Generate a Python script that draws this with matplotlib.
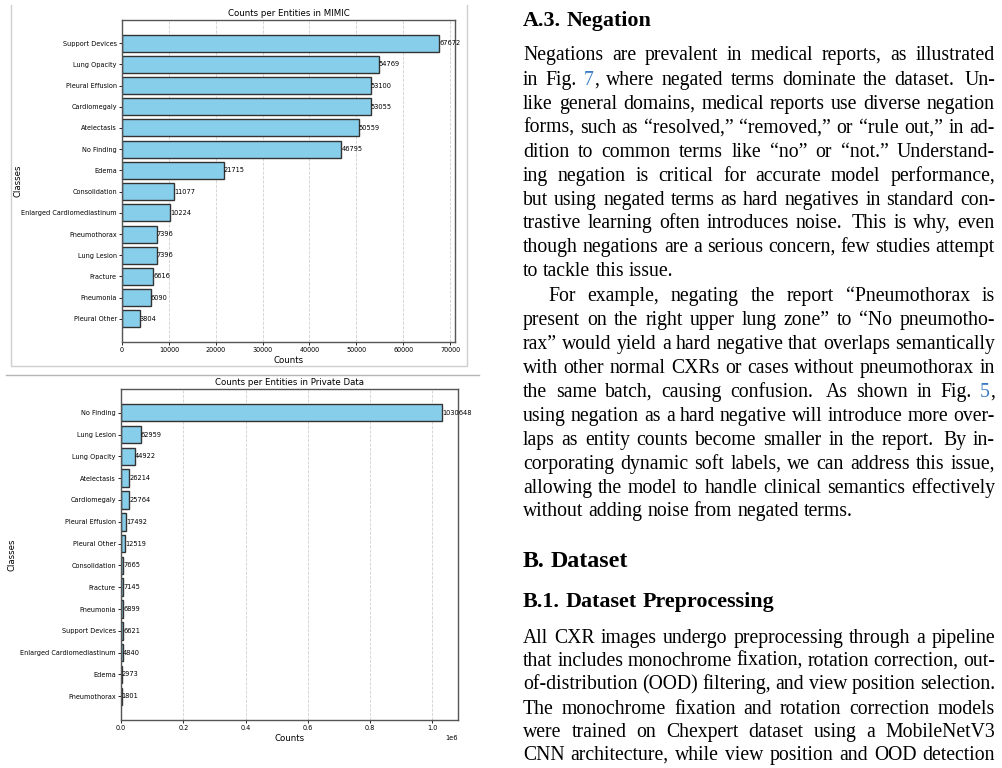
import re

import matplotlib

matplotlib.use("Agg")
import matplotlib.pyplot as plt
from matplotlib.lines import Line2D
from matplotlib.transforms import IdentityTransform

W, H = 1002, 768

mimic_classes = [
    "Support Devices", "Lung Opacity", "Pleural Effusion", "Cardiomegaly",
    "Atelectasis", "No Finding", "Edema", "Consolidation",
    "Enlarged Cardiomediastinum", "Pneumothorax", "Lung Lesion", "Fracture",
    "Pneumonia", "Pleural Other",
]
mimic_counts = [67672, 54769, 53100, 53055, 50559, 46795, 21715, 11077,
                10224, 7396, 7396, 6616, 6090, 3804]

private_classes = [
    "No Finding", "Lung Lesion", "Lung Opacity", "Atelectasis", "Cardiomegaly",
    "Pleural Effusion", "Pleural Other", "Consolidation", "Fracture",
    "Pneumonia", "Support Devices", "Enlarged Cardiomediastinum", "Edema",
    "Pneumothorax",
]
private_counts = [1030648, 62959, 44922, 26214, 25764, 17492, 12519, 7665,
                  7145, 6899, 6621, 4840, 2973, 1801]

# text column: (kind, text, baseline y in px from top, justify, indent)
page_lines = [
    ("h2", "A.3. Negation", 26, False, 0),
    ("p", "Negations are prevalent in medical reports, as illustrated", 60, True, 0),
    ("p", "in Fig. {7}, where negated terms dominate the dataset.  Un-", 85, True, 0),
    ("p", "like general domains, medical reports use diverse negation", 109, True, 0),
    ("p", "forms, such as \u201cresolved,\u201d \u201cremoved,\u201d or \u201crule out,\u201d in ad-", 133, True, 0),
    ("p", "dition to common terms like \u201cno\u201d or \u201cnot.\u201d Understand-", 157, True, 0),
    ("p", "ing negation is critical for accurate model performance,", 181, True, 0),
    ("p", "but using negated terms as hard negatives in standard con-", 205, True, 0),
    ("p", "trastive learning often introduces noise.  This is why, even", 228, True, 0),
    ("p", "though negations are a serious concern, few studies attempt", 252, True, 0),
    ("p", "to tackle this issue.", 276, False, 0),
    ("p", "For example, negating the report \u201cPneumothorax is", 301, True, 25),
    ("p", "present on the right upper lung zone\u201d to \u201cNo pneumotho-", 325, True, 0),
    ("p", "rax\u201d would yield a hard negative that overlaps semantically", 349, True, 0),
    ("p", "with other normal CXRs or cases without pneumothorax in", 373, True, 0),
    ("p", "the same batch, causing confusion.  As shown in Fig. {5},", 397, True, 0),
    ("p", "using negation as a hard negative will introduce more over-", 421, True, 0),
    ("p", "laps as entity counts become smaller in the report.  By in-", 445, True, 0),
    ("p", "corporating dynamic soft labels, we can address this issue,", 469, True, 0),
    ("p", "allowing the model to handle clinical semantics effectively", 493, True, 0),
    ("p", "without adding noise from negated terms.", 516, False, 0),
    ("h1", "B. Dataset", 567, False, 0),
    ("h2", "B.1. Dataset Preprocessing", 607, False, 0),
    ("p", "All CXR images undergo preprocessing through a pipeline", 643, True, 0),
    ("p", "that includes monochrome fixation, rotation correction, out-", 666, True, 0),
    ("p", "of-distribution (OOD) filtering, and view position selection.", 689, True, 0),
    ("p", "The monochrome fixation and rotation correction models", 714, True, 0),
    ("p", "were trained on Chexpert dataset using a MobileNetV3", 737, True, 0),
    ("p", "CNN architecture, while view position and OOD detection", 760, True, 0),
]

TEXT_X0, TEXT_X1 = 523, 995
LINK_COLOR = "#3a7cc4"
STYLES = {
    "p": dict(size=14.2, weight="normal"),
    "h2": dict(size=15.8, weight="bold"),
    "h1": dict(size=17.3, weight="bold"),
}


def px_axes(fig, left, top, right, bottom):
    return fig.add_axes([left / W, 1 - bottom / H, (right - left) / W, (bottom - top) / H])


def px_line(fig, xs, ys, color):
    fig.add_artist(Line2D([x / W for x in xs], [1 - y / H for y in ys],
                          transform=fig.transFigure, color=color, linewidth=1.0))


def draw_chart(ax, classes, counts, title):
    ypos = list(range(len(classes)))
    ax.barh(ypos, counts, color="skyblue", edgecolor="#333333", linewidth=1.0, zorder=2)
    ax.set_yticks(ypos)
    ax.set_yticklabels(classes)
    ax.invert_yaxis()
    for y, value in zip(ypos, counts):
        ax.text(value, y, str(value), va="center", ha="left", fontsize=4.8, zorder=3)
    ax.grid(axis="x", linestyle="--", color="#bbbbbb", alpha=0.7, linewidth=0.6)
    ax.set_axisbelow(True)
    ax.tick_params(labelsize=4.7, length=2.2, width=0.6, pad=1.5)
    ax.xaxis.get_offset_text().set_fontsize(4.8)
    for spine in ax.spines.values():
        spine.set_color("#555555")
        spine.set_linewidth(1.0)
    ax.set_title(title, fontsize=6.2, pad=3)
    ax.set_xlabel("Counts", fontsize=6.2, labelpad=2)
    ax.set_ylabel("Classes", fontsize=6.2)


def split_pieces(word):
    pieces = []
    for part in re.split(r"(\{[^}]*\})", word):
        if not part:
            continue
        if part.startswith("{"):
            pieces.append((part[1:-1], LINK_COLOR))
        else:
            pieces.append((part, "black"))
    return pieces


def draw_text_line(fig, renderer, text, y_top, justify, indent, style):
    tokens = re.split(r"( +)", text)
    words = tokens[0::2]
    gaps = tokens[1::2]
    size_px = style["size"] * 100 / 72.0
    base_y = H - y_top

    word_artists = []
    widths = []
    for word in words:
        artists = []
        width = 0.0
        for chunk, color in split_pieces(word):
            t = fig.text(0, base_y, chunk, transform=IdentityTransform(),
                         fontfamily="Liberation Serif", fontsize=style["size"],
                         fontweight=style["weight"], color=color, va="baseline", ha="left")
            w = t.get_window_extent(renderer).width
            artists.append((t, width))
            width += w
        word_artists.append(artists)
        widths.append(width)

    weights = [1.0 + 0.4 * (len(g) - 1) for g in gaps]
    start = TEXT_X0 + indent
    if justify and gaps:
        free = (TEXT_X1 - start) - sum(widths)
        unit = max(free / sum(weights), 0.12 * size_px)
    else:
        unit = 0.25 * size_px

    x = start
    for i, artists in enumerate(word_artists):
        for t, offset in artists:
            t.set_position((x + offset, base_y))
        x += widths[i]
        if i < len(weights):
            x += unit * weights[i]


fig = plt.figure(figsize=(W / 100, H / 100), dpi=100)

# light frame around the upper chart (open at the top) and separator above the lower one
px_line(fig, [11, 11, 467, 467], [5, 366, 366, 5], "#cfcfcf")
px_line(fig, [6, 479], [375, 375], "#b5b5b5")

ax_top = px_axes(fig, 122, 20, 455, 342)
draw_chart(ax_top, mimic_classes, mimic_counts, "Counts per Entities in MIMIC")
ax_top.yaxis.set_label_coords(-0.30, 0.5)

ax_bot = px_axes(fig, 121, 389, 458, 720)
draw_chart(ax_bot, private_classes, private_counts, "Counts per Entities in Private Data")
ax_bot.yaxis.set_label_coords(-0.31, 0.5)

renderer = fig.canvas.get_renderer()
for kind, text, y, justify, indent in page_lines:
    draw_text_line(fig, renderer, text, y, justify, indent, STYLES[kind])

fig.savefig("out.png", dpi=100)
plt.close(fig)
